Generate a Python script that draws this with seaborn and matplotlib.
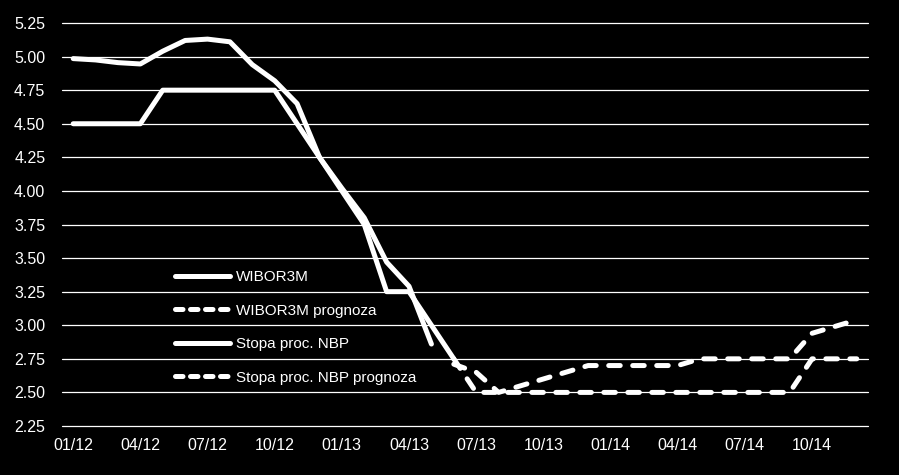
import matplotlib
matplotlib.use("Agg")
import matplotlib.pyplot as plt
import seaborn as sns
import pandas as pd
import numpy as np

months = ["01/12", "02/12", "03/12", "04/12", "05/12", "06/12", "07/12", "08/12", "09/12",
          "10/12", "11/12", "12/12", "01/13", "02/13", "03/13", "04/13", "05/13", "06/13",
          "07/13", "08/13", "09/13", "10/13", "11/13", "12/13", "01/14", "02/14", "03/14",
          "04/14", "05/14", "06/14", "07/14", "08/14", "09/14", "10/14", "11/14", "12/14"]

wibor = [4.985, 4.975, 4.955, 4.945, 5.04, 5.12, 5.13, 5.11, 4.94, 4.82, 4.65, 4.25,
         4.02, 3.80, 3.47, 3.29, 2.86]
wibor_start = 0
wibor_prog = [2.71, 2.65, 2.50, 2.55, 2.60, 2.65, 2.70, 2.70, 2.70, 2.70, 2.70, 2.75,
              2.75, 2.75, 2.75, 2.75, 2.94, 2.99, 3.04]
wibor_prog_start = 17
nbp = [4.50, 4.50, 4.50, 4.50, 4.75, 4.75, 4.75, 4.75, 4.75, 4.75, 4.50, 4.25,
       4.00, 3.75, 3.25, 3.25, 3.00, 2.75]
nbp_start = 0
nbp_prog = [2.75, 2.50, 2.50, 2.50, 2.50, 2.50, 2.50, 2.50, 2.50, 2.50, 2.50, 2.50,
            2.50, 2.50, 2.50, 2.50, 2.75, 2.75, 2.75]
nbp_prog_start = 17

series_names = ["WIBOR3M", "WIBOR3M prognoza", "Stopa proc. NBP", "Stopa proc. NBP prognoza"]
yticks = [2.25, 2.50, 2.75, 3.00, 3.25, 3.50, 3.75, 4.00, 4.25, 4.50, 4.75, 5.00, 5.25]

sns.set_style("dark")
plt.rcParams['font.family'] = ['Liberation Sans', 'DejaVu Sans']

fig = plt.figure(figsize=(8.99, 4.75), dpi=100, facecolor="black")
ax = fig.add_axes([62/899, 1-426/475, 806/899, 403/475])
ax.set_facecolor("black")

def frame(vals, start, name):
    return pd.DataFrame({"x": np.arange(start, start + len(vals)), "y": vals, "s": name})

parts = [
    (frame(wibor, wibor_start, series_names[0]), False),
    (frame(wibor_prog, wibor_prog_start, series_names[1]), True),
    (frame(nbp, nbp_start, series_names[2]), False),
    (frame(nbp_prog, nbp_prog_start, series_names[3]), True),
]

lw = 3.6
for df, dashed in parts:
    sns.lineplot(data=df, x="x", y="y", ax=ax, color="white", linewidth=lw,
                 label=df["s"].iloc[0], sort=False, estimator=None,
                 solid_capstyle="round", solid_joinstyle="round",
                 dash_capstyle="round", dash_joinstyle="round",
                 dashes=False, zorder=3)
    line = ax.lines[-1]
    if dashed:
        line.set_dashes([2.3, 2.5])
    line.set_clip_on(False)

ax.set_xlim(-0.5, 35.5)
ax.set_ylim(2.25, 5.25)
ax.set_yticks(yticks)
ax.set_yticklabels([f"{v:.2f}" for v in yticks])
ax.set_xticks(np.arange(0, 36, 3))
ax.set_xticklabels(months[::3])
ax.tick_params(axis="both", length=0, colors="white", labelsize=11.5)
ax.tick_params(axis="y", pad=12)
ax.tick_params(axis="x", pad=9)
ax.set_xlabel("")
ax.set_ylabel("")
ax.grid(False)
for v in yticks:
    ax.axhline(v, color="white", linewidth=0.9, zorder=1, clip_on=False)
for sp in ax.spines.values():
    sp.set_visible(False)

leg = ax.legend(loc="upper left", bbox_to_anchor=((175-62)/806, (426-270)/403),
                frameon=False, fontsize=11, labelcolor="white",
                handlelength=3.6, handletextpad=0.4, labelspacing=1.28,
                borderpad=0, borderaxespad=0)
for h in leg.get_lines():
    h.set_linewidth(lw)
    h.set_solid_capstyle("round")
    h.set_dash_capstyle("round")
for h, (df, dashed) in zip(leg.get_lines(), parts):
    if dashed:
        h.set_dashes([1.5, 1.5])

fig.savefig("out.png", dpi=100, facecolor="black")
